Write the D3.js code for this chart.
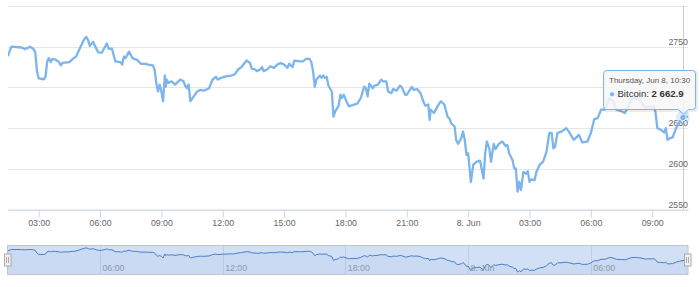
<!DOCTYPE html>
<html>
<head>
<meta charset="utf-8">
<script src="https://cdn.jsdelivr.net/npm/d3@7"></script>
<style>
  body { margin: 0; background: #fff; }
  text { font-family: "Lucida Grande", "Lucida Sans Unicode", Arial, Helvetica, sans-serif; }
</style>
</head>
<body>
<div class="viz"></div>
<script>

// Bitcoin price, 7-8 June 2017 (day hh:mm, price)
const bitcoin = [
  ["7 01:30", 2739], ["7 01:40", 2750], ["7 02:10", 2749], ["7 02:20", 2747], ["7 02:35", 2750],
  ["7 02:45", 2747], ["7 02:50", 2743], ["7 02:55", 2720], ["7 03:00", 2711], ["7 03:15", 2710],
  ["7 03:20", 2713], ["7 03:25", 2732], ["7 03:30", 2736], ["7 03:35", 2731], ["7 03:40", 2735],
  ["7 03:50", 2734], ["7 04:00", 2731], ["7 04:05", 2727], ["7 04:10", 2730], ["7 04:30", 2731],
  ["7 04:40", 2735], ["7 04:50", 2738], ["7 05:00", 2747.5], ["7 05:10", 2756], ["7 05:15", 2760],
  ["7 05:20", 2762], ["7 05:25", 2758], ["7 05:30", 2751], ["7 05:40", 2756], ["7 05:45", 2751],
  ["7 05:55", 2743], ["7 06:05", 2742.6], ["7 06:20", 2754], ["7 06:25", 2747.5], ["7 06:35", 2747.5],
  ["7 06:45", 2732], ["7 07:00", 2731], ["7 07:05", 2728], ["7 07:10", 2738], ["7 07:15", 2736],
  ["7 07:25", 2744], ["7 07:35", 2736], ["7 07:50", 2733.5], ["7 08:00", 2729], ["7 08:15", 2729],
  ["7 08:20", 2728], ["7 08:35", 2727], ["7 08:40", 2722], ["7 08:45", 2705.6], ["7 08:50", 2695],
  ["7 08:55", 2703.5], ["7 09:00", 2695], ["7 09:05", 2683], ["7 09:10", 2714.6], ["7 09:13", 2701],
  ["7 09:16", 2709.6], ["7 09:20", 2705.6], ["7 09:30", 2707.5], ["7 09:40", 2703.5], ["7 09:55", 2709.6],
  ["7 10:05", 2707.5], ["7 10:10", 2702], ["7 10:15", 2699], ["7 10:20", 2703.5], ["7 10:25", 2683],
  ["7 10:35", 2689], ["7 10:45", 2695], ["7 10:55", 2697], ["7 11:05", 2696], ["7 11:20", 2699],
  ["7 11:30", 2709.6], ["7 11:40", 2713], ["7 11:45", 2709.6], ["7 11:55", 2711.7], ["7 12:10", 2713.7],
  ["7 12:25", 2714.6], ["7 12:35", 2716], ["7 12:45", 2722], ["7 12:55", 2725], ["7 13:10", 2733],
  ["7 13:20", 2730], ["7 13:25", 2723], ["7 13:35", 2722], ["7 13:40", 2720], ["7 13:50", 2722],
  ["7 13:55", 2725], ["7 14:00", 2720], ["7 14:10", 2722], ["7 14:20", 2726], ["7 14:30", 2724],
  ["7 14:40", 2728], ["7 14:50", 2730], ["7 15:00", 2728], ["7 15:10", 2724], ["7 15:15", 2729],
  ["7 15:25", 2725], ["7 15:30", 2733], ["7 15:45", 2732], ["7 15:55", 2732], ["7 16:05", 2735],
  ["7 16:15", 2735], ["7 16:20", 2731], ["7 16:25", 2720], ["7 16:30", 2700.6], ["7 16:35", 2709.6],
  ["7 16:45", 2714.6], ["7 16:50", 2711.7], ["7 16:55", 2714.6], ["7 17:00", 2711.7], ["7 17:05", 2713],
  ["7 17:10", 2702], ["7 17:20", 2695], ["7 17:25", 2664], ["7 17:30", 2670.5], ["7 17:40", 2677.5],
  ["7 17:45", 2691], ["7 17:50", 2687], ["7 17:55", 2691], ["7 18:05", 2681], ["7 18:10", 2676.7],
  ["7 18:25", 2678.8], ["7 18:35", 2680], ["7 18:45", 2687], ["7 18:55", 2701], ["7 19:00", 2699],
  ["7 19:05", 2689], ["7 19:10", 2704.7], ["7 19:20", 2699], ["7 19:25", 2702], ["7 19:35", 2703.5],
  ["7 19:45", 2709.6], ["7 19:50", 2707.5], ["7 20:00", 2707.5], ["7 20:05", 2695], ["7 20:15", 2693],
  ["7 20:20", 2698], ["7 20:30", 2696], ["7 20:40", 2702], ["7 20:45", 2700.6], ["7 20:55", 2691],
  ["7 21:00", 2691], ["7 21:15", 2700.6], ["7 21:20", 2697], ["7 21:30", 2698], ["7 21:40", 2693],
  ["7 21:50", 2681], ["7 21:55", 2677.5], ["7 22:03", 2679], ["7 22:07", 2660], ["7 22:10", 2672.6],
  ["7 22:20", 2668.5], ["7 22:30", 2676.7], ["7 22:40", 2683], ["7 22:50", 2679], ["7 23:00", 2663.6],
  ["7 23:05", 2662], ["7 23:10", 2656], ["7 23:20", 2652], ["7 23:25", 2635.6], ["7 23:30", 2630.6],
  ["7 23:40", 2637.7], ["7 23:45", 2645.8], ["7 23:50", 2635.6], ["7 23:55", 2617], ["8 00:00", 2619],
  ["8 00:08", 2584], ["8 00:15", 2605], ["8 00:25", 2608.7], ["8 00:35", 2610], ["8 00:45", 2588],
  ["8 00:50", 2619], ["8 00:55", 2633.5], ["8 01:02", 2625], ["8 01:07", 2608.7], ["8 01:15", 2630.6],
  ["8 01:20", 2624], ["8 01:30", 2630.6], ["8 01:40", 2633.5], ["8 01:50", 2628], ["8 01:55", 2629.4],
  ["8 02:00", 2619], ["8 02:10", 2611], ["8 02:15", 2600.6], ["8 02:20", 2600.6], ["8 02:25", 2572],
  ["8 02:30", 2584], ["8 02:35", 2574], ["8 02:42", 2596], ["8 02:50", 2594], ["8 02:55", 2597],
  ["8 03:00", 2584], ["8 03:05", 2587], ["8 03:15", 2586], ["8 03:20", 2596], ["8 03:30", 2605],
  ["8 03:40", 2608.7], ["8 03:50", 2621], ["8 03:58", 2644], ["8 04:05", 2644], ["8 04:10", 2625],
  ["8 04:15", 2627], ["8 04:22", 2644], ["8 04:35", 2646], ["8 04:48", 2650], ["8 04:55", 2646],
  ["8 05:10", 2635.6], ["8 05:25", 2641.7], ["8 05:35", 2632.4], ["8 05:50", 2633.5], ["8 06:00", 2644],
  ["8 06:10", 2661], ["8 06:20", 2662.3], ["8 06:30", 2672.6], ["8 06:40", 2672.6], ["8 06:45", 2676.7],
  ["8 06:55", 2687], ["8 07:05", 2683], ["8 07:15", 2672.6], ["8 07:30", 2670.5], ["8 07:40", 2668.5],
  ["8 07:50", 2676.7], ["8 08:00", 2687], ["8 08:15", 2687], ["8 08:30", 2681], ["8 08:40", 2674.7],
  ["8 08:50", 2676], ["8 09:05", 2676.7], ["8 09:10", 2668.5], ["8 09:15", 2650], ["8 09:25", 2648],
  ["8 09:35", 2644.7], ["8 09:40", 2650], ["8 09:45", 2635.6], ["8 09:55", 2638], ["8 10:00", 2638.5],
  ["8 10:10", 2650], ["8 10:20", 2657], ["8 10:30", 2662.9], ["8 10:45", 2664]
]

const seriesName = 'Bitcoin'
const yTicks = [2550, 2600, 2650, 2700, 2750, 2800]
const hoverTime = "8 10:30"

const width = 700
const height = 287
const plot = {left: 8, right: 688, top: 6, bottom: 209.5}
const nav = {top: 245.5, bottom: 274.5}
const tip = {x0: 603.5, x1: 695.5, y0: 70.5, y1: 109.5, r: 3}
const lineColor = '#7cb5ec'

const parseTime = s => d3.timeParse("%Y-%m-%d %H:%M")("2017-06-0" + s)
const data = bitcoin.map(([t, v]) => ({date: parseTime(t), value: v}))

const svg = d3.select('.viz').append('svg')
  .attr('width', width)
  .attr('height', height)

const x = d3.scaleTime()
  .domain(d3.extent(data, d => d.date))
  .range([plot.left, plot.right])

const y = d3.scaleLinear()
  .domain([2550, 2800])
  .range([plot.bottom, plot.top])

const fmtTick = d => d.getHours() === 0 ? d3.timeFormat("%-d. %b")(d) : d3.timeFormat("%H:%M")(d)

// grid
svg.append('g')
  .selectAll('line')
  .data(yTicks)
  .join('line')
  .attr('x1', plot.left)
  .attr('x2', plot.right)
  .attr('y1', d => Math.round(y(d)) + 0.5)
  .attr('y2', d => Math.round(y(d)) + 0.5)
  .attr('stroke', '#e6e6e6')

// crosshair
const hover = data.find(d => +d.date === +parseTime(hoverTime))
svg.append('line')
  .attr('x1', Math.round(x(hover.date)) + 0.5)
  .attr('x2', Math.round(x(hover.date)) + 0.5)
  .attr('y1', plot.top)
  .attr('y2', plot.bottom)
  .attr('stroke', '#cccccc')

// x axis
const xAxis = d3.axisBottom(x)
  .ticks(d3.timeHour.every(3))
  .tickFormat(fmtTick)
  .tickSizeInner(8)
  .tickSizeOuter(0)

const gx = svg.append('g')
  .attr('transform', `translate(0,${plot.bottom})`)
  .call(xAxis)
gx.select('.domain').attr('stroke', '#ccd6eb')
gx.selectAll('.tick line').attr('stroke', '#ccd6eb')
gx.selectAll('.tick text')
  .attr('fill', '#666')
  .attr('font-size', '8.8px')
  .attr('y', 10)
  .attr('dy', '0.71em')

// y labels, inside the plot on the right; last one hidden, the one under the tooltip is covered
svg.append('g')
  .selectAll('text')
  .data(yTicks.slice(0, -1).filter(d => !(y(d) > tip.y0 && y(d) < tip.y1 + 4)))
  .join('text')
  .attr('x', plot.right)
  .attr('y', d => y(d) - 2)
  .attr('text-anchor', 'end')
  .attr('fill', '#666')
  .attr('font-size', '8.8px')
  .text(d => d)

// main line
svg.append('clipPath').attr('id', 'clip')
  .append('rect')
  .attr('x', plot.left).attr('y', plot.top)
  .attr('width', plot.right - plot.left).attr('height', plot.bottom - plot.top)

svg.append('path')
  .datum(data)
  .attr('clip-path', 'url(#clip)')
  .attr('fill', 'none')
  .attr('stroke', lineColor)
  .attr('stroke-width', 2.3)
  .attr('stroke-linejoin', 'round')
  .attr('stroke-linecap', 'round')
  .attr('d', d3.line().x(d => x(d.date)).y(d => y(d.value)))

// navigator
const ext = d3.extent(data, d => d.value)
const pad = (ext[1] - ext[0]) * 0.1
const yNav = d3.scaleLinear()
  .domain([ext[0] - pad, ext[1] + pad])
  .range([nav.bottom, nav.top])

const navTicks = x.ticks(d3.timeHour.every(6))

svg.append('g')
  .selectAll('line')
  .data(navTicks)
  .join('line')
  .attr('x1', d => Math.round(x(d)) + 0.5)
  .attr('x2', d => Math.round(x(d)) + 0.5)
  .attr('y1', nav.top)
  .attr('y2', nav.bottom)
  .attr('stroke', '#e6e6e6')

svg.append('path')
  .datum(data)
  .attr('fill', '#335cad')
  .attr('fill-opacity', 0.05)
  .attr('d', d3.area().x(d => x(d.date)).y0(nav.bottom).y1(d => yNav(d.value)))

svg.append('path')
  .datum(data)
  .attr('fill', 'none')
  .attr('stroke', '#3f72bf')
  .attr('stroke-width', 1)
  .attr('d', d3.line().x(d => x(d.date)).y(d => yNav(d.value)))

svg.append('g')
  .selectAll('text')
  .data(navTicks)
  .join('text')
  .attr('x', d => x(d) + 2.4)
  .attr('y', nav.bottom - 3.5)
  .attr('fill', '#999')
  .attr('font-size', '8.8px')
  .text(fmtTick)

// selected range mask + outline
svg.append('rect')
  .attr('x', plot.left - 0.5)
  .attr('y', nav.top)
  .attr('width', plot.right - plot.left + 0.5)
  .attr('height', nav.bottom - nav.top)
  .attr('fill', 'rgba(102,153,221,0.3)')
  .attr('stroke', '#c4c4c4')

// handles
const handles = svg.append('g')
  .selectAll('g')
  .data([plot.left - 0.5, plot.right])
  .join('g')
  .attr('transform', d => `translate(${Math.round(d)},${(nav.top + nav.bottom) / 2})`)

handles.append('rect')
  .attr('x', -3.5).attr('y', -6)
  .attr('width', 6.5).attr('height', 12)
  .attr('fill', '#f2f2f2')
  .attr('stroke', '#999')
  .attr('stroke-width', 0.8)

handles.selectAll('line')
  .data([-1.5, 0.5])
  .join('line')
  .attr('x1', d => d).attr('x2', d => d)
  .attr('y1', -3).attr('y2', 3)
  .attr('stroke', '#999')
  .attr('stroke-width', 0.8)

// hover marker
const hx = x(hover.date)
const hy = y(hover.value)

svg.append('circle')
  .attr('cx', hx).attr('cy', hy)
  .attr('r', 7)
  .attr('fill', lineColor)
  .attr('fill-opacity', 0.25)

svg.append('circle')
  .attr('cx', hx).attr('cy', hy)
  .attr('r', 3.2)
  .attr('fill', lineColor)
  .attr('stroke', '#fff')
  .attr('stroke-width', 0.8)

// tooltip
const ax = Math.round(hx) + 0.5
const calloutPath = `M${tip.x0 + tip.r},${tip.y0} L${tip.x1 - tip.r},${tip.y0}
  Q${tip.x1},${tip.y0} ${tip.x1},${tip.y0 + tip.r} L${tip.x1},${tip.y1 - tip.r}
  Q${tip.x1},${tip.y1} ${tip.x1 - tip.r},${tip.y1} L${ax + 5},${tip.y1} L${ax},${tip.y1 + 4.5} L${ax - 5},${tip.y1}
  L${tip.x0 + tip.r},${tip.y1} Q${tip.x0},${tip.y1} ${tip.x0},${tip.y1 - tip.r}
  L${tip.x0},${tip.y0 + tip.r} Q${tip.x0},${tip.y0} ${tip.x0 + tip.r},${tip.y0} Z`

const tg = svg.append('g')

tg.append('path')
  .attr('d', calloutPath)
  .attr('transform', 'translate(1,1)')
  .attr('fill', 'none')
  .attr('stroke', 'rgba(0,0,0,0.08)')
  .attr('stroke-width', 3)

tg.append('path')
  .attr('d', calloutPath)
  .attr('fill', 'rgba(247,247,247,0.85)')
  .attr('stroke', lineColor)

tg.append('text')
  .attr('x', tip.x0 + 5.5)
  .attr('y', tip.y0 + 12)
  .attr('fill', '#555')
  .attr('font-size', '8px')
  .text(d3.timeFormat("%A, %b %-d, %H:%M")(hover.date))

const row = tg.append('text')
  .attr('x', tip.x0 + 5.5)
  .attr('y', tip.y0 + 26)
  .attr('fill', '#333')
  .attr('font-size', '9.6px')

row.append('tspan').attr('fill', lineColor).text('\u25CF ')
row.append('tspan').text(seriesName + ': ')
row.append('tspan')
  .attr('font-weight', 'bold')
  .text(d3.format(",.1f")(hover.value).replace(/,/g, ' '))

</script>
</body>
</html>
